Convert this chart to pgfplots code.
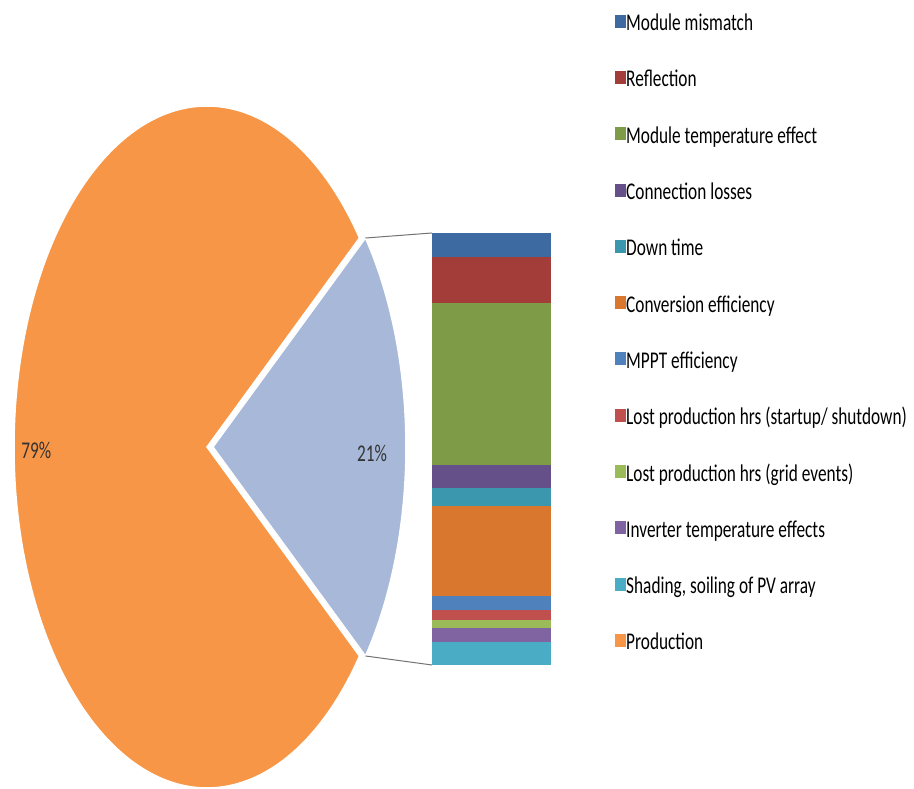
\documentclass[border=0pt]{standalone}
\usepackage{pgfplots}
\usepackage{pgfplotstable}
\pgfplotsset{compat=1.18}
\usepackage{fontspec}
\setmainfont{Carlito}
\newfontfamily\legfont[FakeStretch=0.72]{Carlito}
\definecolor{cMM}{HTML}{3D6AA0}
\definecolor{cRe}{HTML}{A33D3A}
\definecolor{cMT}{HTML}{7E9B47}
\definecolor{cCL}{HTML}{66508A}
\definecolor{cDT}{HTML}{3A97AE}
\definecolor{cCE}{HTML}{D9772E}
\definecolor{cMP}{HTML}{4F81BD}
\definecolor{cLS}{HTML}{C0504D}
\definecolor{cLG}{HTML}{9BBB59}
\definecolor{cIT}{HTML}{8064A2}
\definecolor{cSh}{HTML}{4BACC6}
\definecolor{cProd}{HTML}{F79646}
\definecolor{cOther}{HTML}{A7B8D8}
\pgfplotstableread{
label value
Production 79
Other 21
}\pietable
\pgfplotstablegetelem{1}{value}\of\pietable
\let\vOther\pgfplotsretval
\pgfmathsetmacro\ha{\vOther*3.6/2}
\pgfmathsetmacro\hb{360-\ha}
\pgfplotsset{legsq/.style={legend image code/.code={\fill[##1] (0pt,-2pt) rectangle (11pt,11pt);}}}
\begin{document}
\begin{tikzpicture}[x=1pt,y=1pt]
\useasboundingbox[fill=white] (0,0) rectangle (914,789);
\begin{axis}[hide axis, x=193pt, y=341pt, xmin=-1, xmax=1, ymin=-1, ymax=1,
  anchor=origin, at={(207pt,342pt)}, clip=false]
\fill[cProd, draw=white, line width=1.5pt] (axis cs:0,0) -- (axis cs:{cos(\ha)},{sin(\ha)})
   arc[start angle=\ha, end angle=\hb, x radius=193pt, y radius=341pt] -- cycle;
\fill[cOther, draw=white, line width=1.5pt] (axis cs:0.031,0) -- (axis cs:{0.031+cos(\ha)},{-sin(\ha)})
   arc[start angle=-\ha, end angle=\ha, x radius=193pt, y radius=341pt] -- cycle;
\node[font=\fontsize{24}{28}\legfont, text=black!80] at (axis cs:-0.885,-0.01) {79\%};
\node[font=\fontsize{24}{28}\legfont, text=black!80] at (axis cs:0.855,-0.018) {21\%};
\coordinate (tipT) at (axis cs:{0.031+cos(\ha)},{sin(\ha)});
\coordinate (tipB) at (axis cs:{0.031+cos(\ha)},{-sin(\ha)});
\end{axis}
\begin{axis}[hide axis, ybar stacked, scale only axis, width=119pt, height=432pt,
  xmin=-1, xmax=1, ymin=0, ymax=21, bar width=119pt,
  anchor=north west, at={(432pt,556pt)}, clip=false, reverse legend,
  legend cell align=left,
  legend style={at={(axis description cs:1.538,1.506)}, anchor=north west, draw=none, fill=none,
    inner sep=0pt, row sep=35.3pt, font=\fontsize{24}{28}\legfont,
    nodes={text height=15pt, text depth=5pt, inner sep=0pt},
    /tikz/every even column/.append style={column sep=2pt}}]
\addlegendimage{fill=cProd, draw=none, legsq}
\addlegendentry{Production}
\addplot[fill=cSh, draw=none, legsq] coordinates {(0,1.14)}; \addlegendentry{Shading, soiling of PV array}
\addplot[fill=cIT, draw=none, legsq] coordinates {(0,0.67)}; \addlegendentry{Inverter temperature effects}
\addplot[fill=cLG, draw=none, legsq] coordinates {(0,0.39)}; \addlegendentry{Lost production hrs (grid events)}
\addplot[fill=cLS, draw=none, legsq] coordinates {(0,0.45)}; \addlegendentry{Lost production hrs (startup/ shutdown)}
\addplot[fill=cMP, draw=none, legsq] coordinates {(0,0.71)}; \addlegendentry{MPPT efficiency}
\addplot[fill=cCE, draw=none, legsq] coordinates {(0,4.37)}; \addlegendentry{Conversion efficiency}
\addplot[fill=cDT, draw=none, legsq] coordinates {(0,0.87)}; \addlegendentry{Down time}
\addplot[fill=cCL, draw=none, legsq] coordinates {(0,1.12)}; \addlegendentry{Connection losses}
\addplot[fill=cMT, draw=none, legsq] coordinates {(0,7.88)}; \addlegendentry{Module temperature effect}
\addplot[fill=cRe, draw=none, legsq] coordinates {(0,2.23)}; \addlegendentry{Reflection}
\addplot[fill=cMM, draw=none, legsq] coordinates {(0,1.17)}; \addlegendentry{Module mismatch}
\coordinate (barTL) at (rel axis cs:0,1);
\coordinate (barBL) at (rel axis cs:0,0);
\end{axis}
\draw[black!55, line width=1pt] (tipT) -- (barTL);
\draw[black!55, line width=1pt] (tipB) -- (barBL);
\end{tikzpicture}
\end{document}
